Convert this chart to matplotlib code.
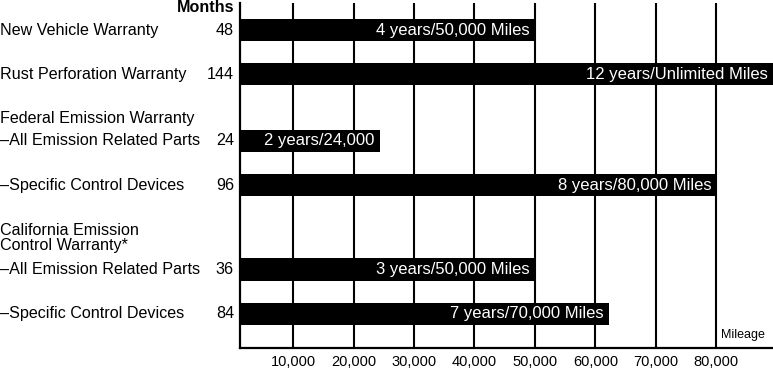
import matplotlib.pyplot as plt
import matplotlib.transforms as mtransforms

plt.rcParams['font.family'] = ['Liberation Sans', 'DejaVu Sans']

# warranty rows (top to bottom)
labels = ["New Vehicle Warranty", "Rust Perforation Warranty",
          "\u2013All Emission Related Parts", "\u2013Specific Control Devices",
          "\u2013All Emission Related Parts", "\u2013Specific Control Devices"]
months = [48, 144, 24, 96, 36, 84]
mileage = [50000, 89400, 24300, 80000, 50000, 62200]   # bar lengths as drawn
bar_text = ["4 years/50,000 Miles", "12 years/Unlimited Miles", "2 years/24,000",
            "8 years/80,000 Miles", "3 years/50,000 Miles", "7 years/70,000 Miles"]
rows = [0, 1, 2.5, 3.5, 5.4, 6.4]

headers = ["Federal Emission Warranty", "California Emission\nControl Warranty*"]
header_rows = [2.0, 4.7]

ticks = [10000, 20000, 30000, 40000, 50000, 60000, 70000, 80000]
tick_labels = ["10,000", "20,000", "30,000", "40,000", "50,000", "60,000", "70,000", "80,000"]

fig = plt.figure(figsize=(7.73, 3.68), dpi=100)
ax = fig.add_axes([240/773, 20/368, 533/773, 345/368])

ax.barh(rows, mileage, height=0.5, color='black', zorder=3)
for x in ticks:
    ax.axvline(x, color='black', lw=1.5, zorder=1)

ax.set_xlim(1200, 89400)
ax.set_ylim(7.17, -0.61)
ax.set_yticks([])
ax.set_xticks(ticks)
ax.set_xticklabels(tick_labels, fontsize=10.5)
ax.tick_params(axis='x', length=0, pad=5)
for s in ['top', 'right']:
    ax.spines[s].set_visible(False)
for s in ['left', 'bottom']:
    ax.spines[s].set_linewidth(1.6)

# texts inside bars
off = mtransforms.offset_copy(ax.transData, fig=fig, x=-5, y=0, units='dots')
for y, m, t in zip(rows, mileage, bar_text):
    ax.text(m, y, t, color='white', ha='right', va='center', fontsize=12,
            transform=off, zorder=4)

# left-hand labels
tr = mtransforms.blended_transform_factory(fig.transFigure, ax.transData)
for y, lab, mo in zip(rows, labels, months):
    ax.text(0.0, y, lab, ha='left', va='center', fontsize=11.6, transform=tr)
    ax.text(234/773, y, str(mo), ha='right', va='center', fontsize=11.6, transform=tr)
for y, h in zip(header_rows, headers):
    ax.text(0.0, y, h, ha='left', va='center', fontsize=11.6, transform=tr,
            linespacing=1.0)

fig.text(234/773, 1 - 8/368, "Months", ha='right', va='center',
         fontsize=11.6, fontweight='bold')
ax.text(0.985, 0.02, "Mileage", ha='right', va='bottom', fontsize=9,
        transform=ax.transAxes)

plt.savefig("out.png", dpi=100)
